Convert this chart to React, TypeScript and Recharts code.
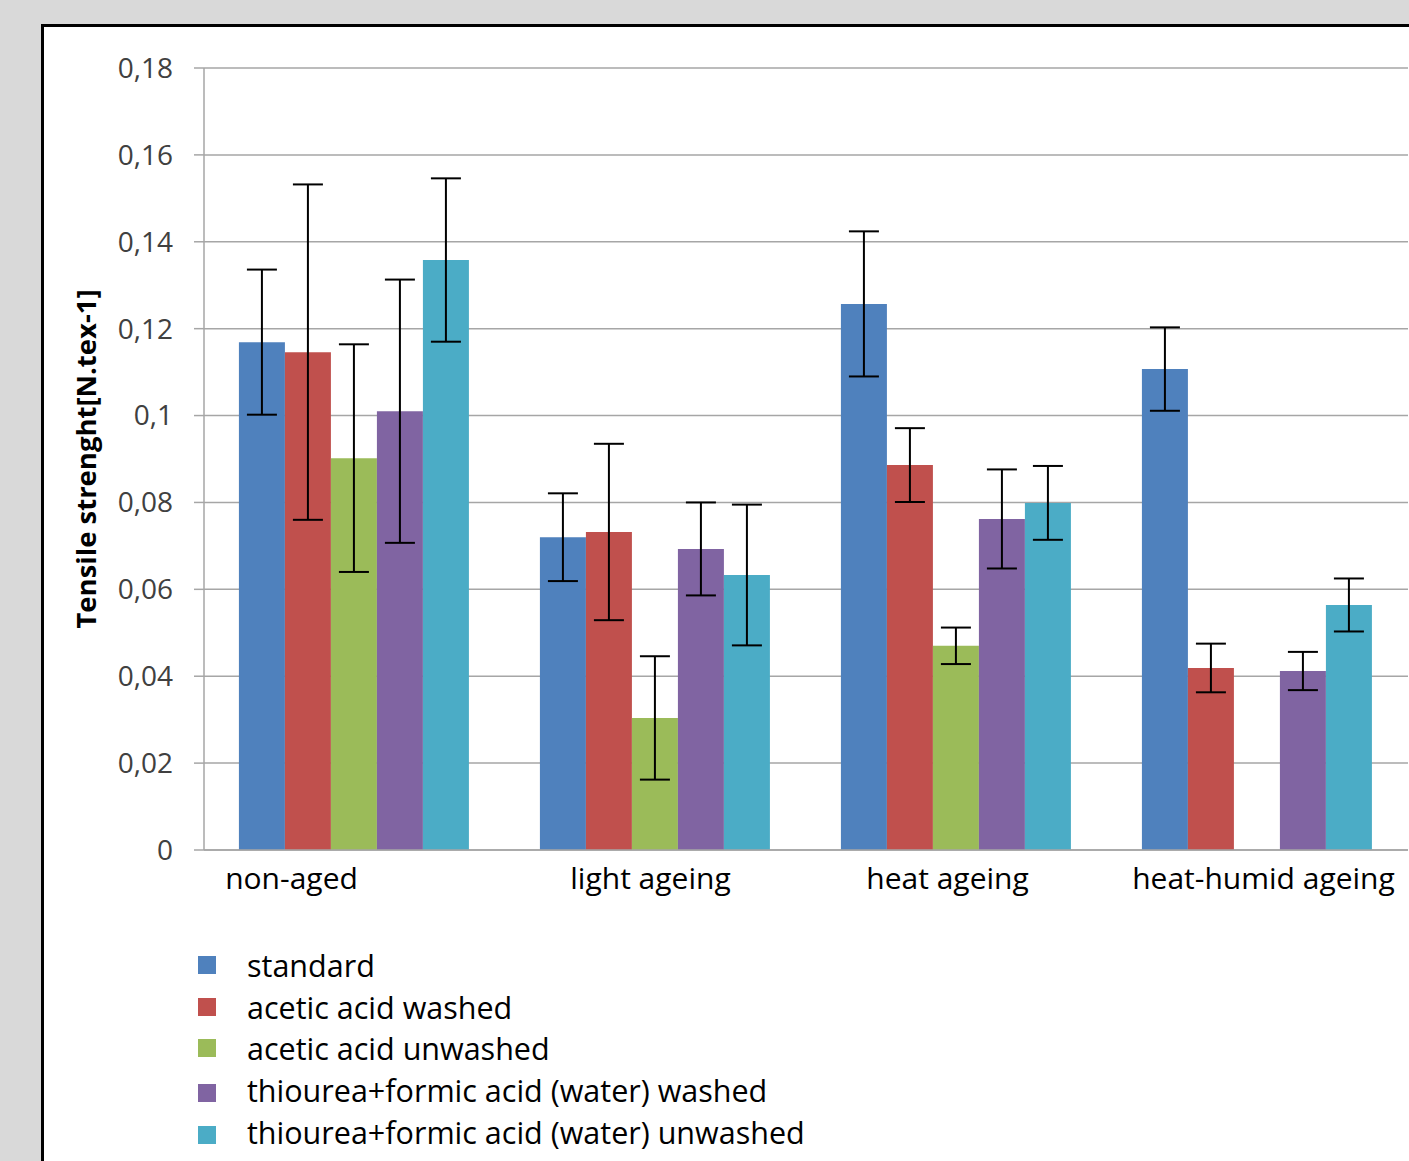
import React from "react";
import { BarChart, Bar, XAxis, YAxis, CartesianGrid, ErrorBar } from "recharts";

const categories = ["non-aged", "light ageing", "heat ageing", "heat-humid ageing"];

const seriesNames = [
  "standard",
  "acetic acid washed",
  "acetic acid unwashed",
  "thiourea+formic acid (water) washed",
  "thiourea+formic acid (water) unwashed",
];

const COLORS = ["#4f81bd", "#c0504d", "#9bbb59", "#8064a2", "#4bacc6"];

// mean values per series, one per category
const standard = [0.1169, 0.072, 0.1257, 0.1107];
const aceticWashed = [0.1146, 0.0732, 0.0886, 0.0419];
const aceticUnwashed = [0.0902, 0.0304, 0.047, null];
const thioWashed = [0.101, 0.0693, 0.0762, 0.0412];
const thioUnwashed = [0.1358, 0.0633, 0.0799, 0.0564];

// standard deviations
const standardErr = [0.0167, 0.0101, 0.0167, 0.0096];
const aceticWashedErr = [0.0386, 0.0203, 0.0085, 0.0056];
const aceticUnwashedErr = [0.0262, 0.0142, 0.0042, null];
const thioWashedErr = [0.0303, 0.0107, 0.0114, 0.0044];
const thioUnwashedErr = [0.0188, 0.0162, 0.0085, 0.0061];

const yTicks = [0, 0.02, 0.04, 0.06, 0.08, 0.1, 0.12, 0.14, 0.16, 0.18];

const values = [standard, aceticWashed, aceticUnwashed, thioWashed, thioUnwashed];
const errors = [standardErr, aceticWashedErr, aceticUnwashedErr, thioWashedErr, thioUnwashedErr];

const data = categories.map((name, i) => {
  const row: Record<string, string | number | null> = { name };
  values.forEach((v, s) => {
    row["s" + s] = v[i];
    row["e" + s] = errors[s][i];
  });
  return row;
});

const FONT = "'Open Sans', sans-serif";

// Excel placed the labels a little off the group centres
const labelShift: Record<string, number> = {
  "non-aged": -63,
  "light ageing": -5,
  "heat ageing": -9,
  "heat-humid ageing": 6,
};

function CategoryTick({ x, y, payload }: { x?: number; y?: number; payload?: { value: string } }) {
  const v = payload?.value ?? "";
  return (
    <text
      x={(x ?? 0) + (labelShift[v] ?? 0)}
      y={(y ?? 0) + 31}
      textAnchor="middle"
      fontFamily={FONT}
      fontSize={30}
      fill="#000"
    >
      {v}
    </text>
  );
}

function fmt(v: number) {
  return String(v).replace(".", ",");
}

export default function App() {
  return (
    <div
      style={{
        position: "absolute",
        left: 0,
        top: 0,
        width: 1409,
        height: 1161,
        background: "#d9d9d9",
        overflow: "hidden",
      }}
    >
      <div
        style={{
          position: "absolute",
          left: 41,
          top: 24,
          width: 1500,
          height: 1300,
          background: "#fff",
          border: "3px solid #000",
        }}
      />
      <div style={{ position: "absolute", left: 0, top: 0 }}>
        <BarChart
          width={1409}
          height={900}
          data={data}
          margin={{ top: 68, right: 1, left: 0, bottom: 20 }}
          barCategoryGap="11.6%"
          barGap={0}
        >
          <CartesianGrid vertical={false} stroke="#a6a6a6" strokeWidth={1.5} />
          <XAxis
            dataKey="name"
            height={30}
            tickLine={false}
            axisLine={{ stroke: "#a6a6a6", strokeWidth: 1.5 }}
            tick={<CategoryTick />}
            interval={0}
          />
          <YAxis
            width={204}
            domain={[0, 0.18]}
            ticks={yTicks}
            tickFormatter={fmt}
            tickSize={10}
            tickMargin={21}
            tickLine={{ stroke: "#a6a6a6", strokeWidth: 1.5 }}
            axisLine={{ stroke: "#a6a6a6", strokeWidth: 1.5 }}
            tick={{ fill: "#404040", fontSize: 28, fontFamily: FONT }}
            label={{
              value: "Tensile strenght[N.tex-1]",
              angle: -90,
              position: "insideLeft",
              offset: 86,
              style: {
                textAnchor: "middle",
                fontFamily: FONT,
                fontWeight: 700,
                fontSize: 27.5,
                fill: "#000",
              },
            }}
          />
          {seriesNames.map((n, s) => (
            <Bar key={n} dataKey={"s" + s} name={n} fill={COLORS[s]} isAnimationActive={false}>
              <ErrorBar dataKey={"e" + s} width={15} stroke="#000" strokeWidth={2} />
            </Bar>
          ))}
        </BarChart>
      </div>
      <div style={{ position: "absolute", left: 198, top: 944, fontFamily: FONT }}>
        {seriesNames.map((n, s) => (
          <div key={n} style={{ display: "flex", alignItems: "center", height: 41.7 }}>
            <div style={{ width: 18, height: 18, background: COLORS[s], marginRight: 31, marginTop: s > 2 ? 6 : 0 }} />
            <span style={{ fontSize: 30.5, color: "#000", lineHeight: "34px" }}>{n}</span>
          </div>
        ))}
      </div>
    </div>
  );
}
